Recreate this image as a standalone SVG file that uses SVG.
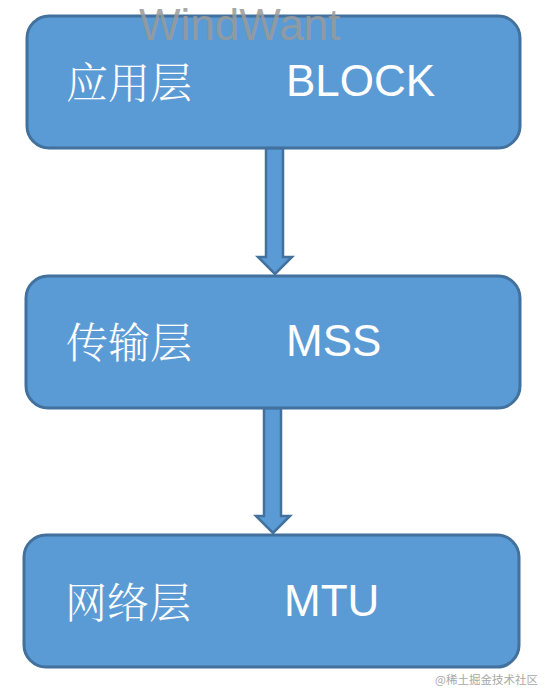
<svg xmlns="http://www.w3.org/2000/svg" width="544" height="692" viewBox="0 0 544 692">
<style>
.box{fill:#5b9bd5;stroke:#41719c;stroke-width:3}
.arr{fill:#5b9bd5;stroke:#41719c;stroke-width:2.5;stroke-linejoin:miter}
.cn{font-family:"Noto Serif CJK SC","Noto Sans CJK SC",serif;font-size:42px;fill:#ffffff;font-weight:300}
.en{font-family:"Liberation Sans",Arial,sans-serif;font-size:44px;fill:#ffffff}
.wm{font-family:"Liberation Sans",Arial,sans-serif;font-size:44px;fill:#9a9a9a;opacity:0.85}
.wm2{font-family:"Noto Sans CJK SC",sans-serif;font-size:11.5px;fill:#a8a8a8}
</style>
<rect width="544" height="692" fill="#ffffff"/>
<g id="connectors">
<path class="arr" d="M266,148 L283,148 L283,257 L292,257 L275,274 L258,257 L266,257 Z"/>
<path class="arr" d="M264,408 L281,408 L281,516 L290,516 L273,533 L256,516 L264,516 Z"/>
</g>
<g id="app">
<rect class="box" x="27" y="16" width="493" height="132" rx="22"/>
<text class="cn" x="66" y="98">应用层</text>
<text class="en" x="286" y="96">BLOCK</text>
</g>
<g id="transport">
<rect class="box" x="26" y="276" width="494" height="132" rx="22"/>
<text class="cn" x="66" y="358">传输层</text>
<text class="en" x="286" y="356">MSS</text>
</g>
<g id="network">
<rect class="box" x="24" y="535" width="495" height="132" rx="22"/>
<text class="cn" x="65" y="618">网络层</text>
<text class="en" x="284" y="616">MTU</text>
</g>
<text class="wm" x="139" y="40">WindWant</text>
<text class="wm2" x="538" y="684" text-anchor="end">@稀土掘金技术社区</text>
</svg>
